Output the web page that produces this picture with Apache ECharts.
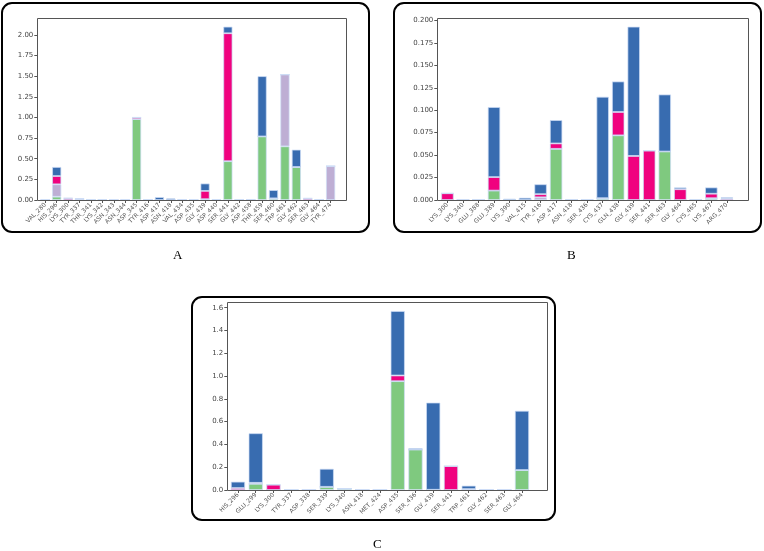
<!DOCTYPE html>
<html><head><meta charset="utf-8">
<script src="https://cdn.jsdelivr.net/npm/echarts@6/dist/echarts.min.js"></script>
<style>html,body{margin:0;padding:0;background:#fff}#c{width:764px;height:551px}</style>
</head><body><div id="c"></div>
<script>
// Panel A
var catsA = ['VAL_280','HIS_296','LYS_300','TYR_337','THR_341','LYS_342','ASN_343','ASN_344','ASP_345','TYR_416','ASP_417','ASN_418','VAL_434','ASP_435','GLY_439','ASP_440','SER_441','GLY_442','ASP_458','THR_459','SER_460','TRP_461','GLY_462','SER_463','GLY_464','TYR_474'];
var hbondA =  [0,0.04,0,0,0,0,0,0,0.98,0,0,0,0,0,0.01,0,0.47,0,0,0.77,0.02,0.65,0.40,0,0,0];
var hydroA =  [0,0.15,0,0.015,0,0,0,0,0,0,0,0,0,0,0,0,0,0,0,0,0,0.87,0,0,0,0.41];
var ionicA =  [0,0.10,0.022,0,0,0,0,0,0.02,0,0,0,0,0,0.10,0,1.55,0,0.005,0,0,0,0,0.02,0,0];
var waterA =  [0,0.11,0,0,0,0.01,0,0,0,0.005,0.035,0.02,0.003,0,0.09,0.003,0.08,0,0,0.73,0.10,0,0.21,0,0,0];
// Panel B
var catsB = ['LYS_300','LYS_340','GLU_388','GLU_389','LYS_390','VAL_415','TYR_416','ASP_417','ASN_418','SER_436','CYS_437','GLN_438','GLY_439','SER_441','SER_463','GLY_464','CYS_465','LYS_467','ARG_470'];
var hbondB =  [0,0,0,0.0105,0,0,0,0.057,0,0,0.002,0.072,0,0,0.054,0,0,0.002,0];
var hydroB =  [0,0,0,0,0,0,0.003,0,0,0,0,0,0,0,0,0,0,0,0];
var ionicB =  [0.0075,0,0,0.015,0,0,0.0035,0.006,0,0,0,0.026,0.049,0.055,0,0.012,0,0.005,0.0015];
var waterB =  [0,0.001,0.001,0.078,0.0015,0.0025,0.011,0.026,0.001,0.001,0.113,0.034,0.144,0,0.0635,0.002,0.001,0.007,0.0015];
// Panel C
var catsC = ['HIS_296','GLU_299','LYS_300','TYR_337','ASP_338','SER_339','LYS_340','ASN_418','MET_424','ASP_435','SER_436','GLY_439','SER_441','TRP_461','GLY_462','SER_463','GLY_464'];
var hbondC =  [0,0.055,0,0,0,0.028,0.012,0,0,0.955,0.355,0.002,0,0,0,0,0.175];
var hydroC =  [0,0,0,0,0,0,0,0,0,0,0,0,0,0,0,0,0];
var ionicC =  [0.017,0.008,0.047,0,0,0,0,0.003,0,0.05,0,0,0.21,0.008,0,0,0];
var waterC =  [0.056,0.435,0,0,0.005,0.158,0,0,0,0.566,0.012,0.765,0,0.03,0.005,0.005,0.52];

var colors = {hbond:'#7fc97f', hydro:'#beaed4', ionic:'#f0027f', water:'#386cb0'};
var ymax = [2.205, 0.2027, 1.65], yint = [0.25, 0.025, 0.2], ydec = [2, 3, 1];
// plot frames (axes boxes)
var frames = [
  {x:37.3, y:18, w:309.4, h:182},
  {x:437.3, y:18, w:311, h:182},
  {x:227.3, y:302, w:320.4, h:188}
];
// bar area inside frames (matplotlib x-limits leave extra room on the right)
var grids = [
  {left:39.6, top:18, width:296.7, height:182},
  {left:439.7, top:18, width:294.9, height:182},
  {left:229.1, top:302, width:301.75, height:188}
];
var cats = [catsA, catsB, catsC];
var data = [[hbondA,hydroA,ionicA,waterA],[hbondB,hydroB,ionicB,waterB],[hbondC,hydroC,ionicC,waterC]];
var keys = ['hbond','hydro','ionic','water'];

var graphics = [
  {type:'rect', shape:{x:2,y:3,width:367,height:229,r:10}, style:{fill:'none', stroke:'#000', lineWidth:2}, z:100},
  {type:'rect', shape:{x:394,y:3,width:367,height:229,r:10}, style:{fill:'none', stroke:'#000', lineWidth:2}, z:100},
  {type:'rect', shape:{x:192,y:297,width:363,height:223,r:10}, style:{fill:'none', stroke:'#000', lineWidth:2}, z:100},
  {type:'text', left:173, top:249, style:{text:'A', font:'13px "Liberation Serif"', fill:'#000'}},
  {type:'text', left:567, top:249, style:{text:'B', font:'13px "Liberation Serif"', fill:'#000'}},
  {type:'text', left:373, top:538, style:{text:'C', font:'13px "Liberation Serif"', fill:'#000'}}
];
frames.forEach(function(f){
  graphics.push({type:'rect', shape:{x:Math.round(f.x)+0.5, y:f.y+0.5, width:Math.round(f.w), height:f.h}, style:{fill:'none', stroke:'#555', lineWidth:1}, z:50});
});

var option = {
  animation:false,
  backgroundColor:'#fff',
  grid: grids.map(function(g){return Object.assign({show:false}, g);}),
  xAxis: cats.map(function(c,i){return {
    type:'category', gridIndex:i, data:c,
    axisLine:{show:false},
    axisTick:{show:true, alignWithLabel:true, length:3, lineStyle:{color:'#555'}},
    axisLabel:{rotate:45, fontSize:6, color:'#555', margin:4, fontFamily:'DejaVu Sans', interval:0}
  };}),
  yAxis: [0,1,2].map(function(i){return {
    type:'value', gridIndex:i, min:0, max:ymax[i], interval:yint[i],
    offset: grids[i].left - frames[i].x,
    splitLine:{show:false},
    axisLine:{show:false},
    axisTick:{show:true, length:3, lineStyle:{color:'#555'}},
    axisLabel:{fontSize:7, color:'#444', margin:4, fontFamily:'DejaVu Sans', showMaxLabel:false,
      formatter:function(v){return v.toFixed(ydec[i]);}}
  };}),
  series: [],
  graphic: graphics
};
for (var p=0;p<3;p++){
  for (var k=0;k<4;k++){
    option.series.push({
      type:'bar', xAxisIndex:p, yAxisIndex:p, stack:'s'+p, data:data[p][k],
      barCategoryGap:'20%',
      itemStyle:{color:colors[keys[k]], borderColor:'rgba(205,220,245,0.9)', borderWidth:0.8}
    });
  }
}
echarts.init(document.getElementById('c')).setOption(option);
</script></body></html>
